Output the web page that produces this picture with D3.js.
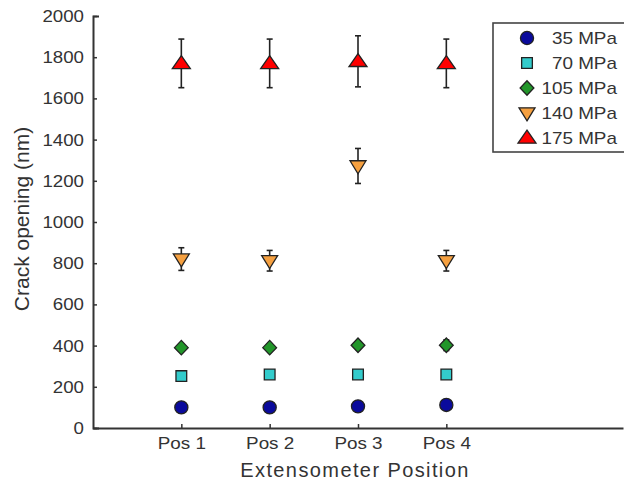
<!DOCTYPE html>
<html>
<head>
<meta charset="utf-8">
<script src="https://cdn.jsdelivr.net/npm/d3@7"></script>
<style>
  body { margin: 0; background: #fff; }
  text { font-family: "Liberation Sans", Arial, sans-serif; fill: #333; }
  .wide { transform-box: fill-box; transform: scaleX(1.18); }
  .wide-s { transform-box: fill-box; transform: scaleX(1.1); }
  .axis path, .axis line { stroke: #333; }
</style>
</head>
<body>
<script>
// chart values
var positions = ['Pos 1', 'Pos 2', 'Pos 3', 'Pos 4'];
var stressLabels = ['35 MPa', '70 MPa', '105 MPa', '140 MPa', '175 MPa'];
var mpa35 = [100, 100, 105, 112],
    err35 = [8, 8, 10, 14];
var mpa70 = [252, 260, 260, 260],
    err70 = [8, 8, 8, 8];
var mpa105 = [390, 390, 402, 402],
    err105 = [12, 12, 20, 26];
var mpa140 = [820, 812, 1272, 812],
    err140 = [55, 50, 85, 50];
var mpa175 = [1770, 1770, 1780, 1770],
    err175 = [118, 118, 124, 118];
var yTicks = [0, 200, 400, 600, 800, 1000, 1200, 1400, 1600, 1800, 2000];

var width = 624, height = 487;

var svg = d3.select('body').append('svg')
  .attr('width', width)
  .attr('height', height);

// scales
var x = d3.scaleLinear().domain([0, 6]).range([93, 623]);
var y = d3.scaleLinear().domain([0, 2000]).range([428, 16]);

// marker shapes (matlab style)
var triUp = { draw: function(ctx, size) {
  var w = Math.sqrt(size) * 0.9, h = 13;
  ctx.moveTo(0, -h * 0.6); ctx.lineTo(w, h * 0.4); ctx.lineTo(-w, h * 0.4); ctx.closePath();
}};
var triDown = { draw: function(ctx, size) {
  var w = Math.sqrt(size) * 0.8, h = 13;
  ctx.moveTo(0, h * 0.6); ctx.lineTo(w, -h * 0.4); ctx.lineTo(-w, -h * 0.4); ctx.closePath();
}};
var diamond = { draw: function(ctx, size) {
  var r = Math.sqrt(size) / 2;
  ctx.moveTo(0, -r); ctx.lineTo(r * 0.95, 0); ctx.lineTo(0, r); ctx.lineTo(-r * 0.95, 0); ctx.closePath();
}};

var series = [
  { label: stressLabels[0], vals: mpa35, errs: err35, type: d3.symbolCircle, size: 135, color: '#0a0a9c' },
  { label: stressLabels[1], vals: mpa70, errs: err70, type: d3.symbolSquare, size: 115, color: '#33cccc' },
  { label: stressLabels[2], vals: mpa105, errs: err105, type: diamond, size: 210, color: '#22962a' },
  { label: stressLabels[3], vals: mpa140, errs: err140, type: triDown, size: 100, color: '#f5a040' },
  { label: stressLabels[4], vals: mpa175, errs: err175, type: triUp, size: 100, color: '#ff0000' }
];

// axes
var yAxis = svg.append('g')
  .attr('class', 'axis')
  .attr('transform', 'translate(' + x(0) + ',0)')
  .call(d3.axisLeft(y).tickValues(yTicks).tickFormat(d3.format('d'))
    .tickSizeInner(-4).tickSizeOuter(-6).tickPadding(9));
var xAxis = svg.append('g')
  .attr('class', 'axis')
  .attr('transform', 'translate(0,' + y(0) + ')')
  .call(d3.axisBottom(x).tickValues([1, 2, 3, 4]).tickFormat(function(d) { return positions[d - 1]; })
    .tickSizeInner(-4).tickSizeOuter(0).tickPadding(10));

svg.selectAll('.axis path').attr('stroke-width', 2);
svg.selectAll('.axis line').attr('stroke-width', 1.5);
svg.selectAll('.axis text')
  .attr('font-family', '"Liberation Sans", Arial, sans-serif')
  .attr('fill', '#333');
yAxis.selectAll('text').attr('font-size', 17).attr('class', 'wide-s').style('transform-origin', 'right center');
xAxis.selectAll('text').attr('font-size', 16).attr('class', 'wide').style('transform-origin', 'center');

// axis titles
svg.append('text')
  .attr('x', 355).attr('y', 477)
  .attr('text-anchor', 'middle')
  .attr('font-size', 20)
  .attr('letter-spacing', 1.4)
  .text('Extensometer Position');
svg.append('text')
  .attr('transform', 'translate(29,219) rotate(-90)')
  .attr('text-anchor', 'middle')
  .attr('font-size', 21)
  .text('Crack opening (nm)');

// error bars then markers
var groups = svg.selectAll('.series')
  .data(series)
  .enter().append('g')
  .attr('class', 'series');

groups.each(function(s) {
  var g = d3.select(this);
  var pts = s.vals.map(function(v, i) { return { pos: i + 1, v: v, e: s.errs[i] }; });
  var bars = g.selectAll('.err').data(pts).enter().append('g').attr('class', 'err')
    .attr('stroke', '#222').attr('stroke-width', 1.6);
  bars.append('line')
    .attr('x1', function(d) { return x(d.pos); }).attr('x2', function(d) { return x(d.pos); })
    .attr('y1', function(d) { return y(d.v - d.e); }).attr('y2', function(d) { return y(d.v + d.e); });
  bars.append('line')
    .attr('x1', function(d) { return x(d.pos) - 3; }).attr('x2', function(d) { return x(d.pos) + 3; })
    .attr('y1', function(d) { return y(d.v + d.e); }).attr('y2', function(d) { return y(d.v + d.e); });
  bars.append('line')
    .attr('x1', function(d) { return x(d.pos) - 3; }).attr('x2', function(d) { return x(d.pos) + 3; })
    .attr('y1', function(d) { return y(d.v - d.e); }).attr('y2', function(d) { return y(d.v - d.e); });
  g.selectAll('.mark').data(pts).enter().append('path')
    .attr('class', 'mark')
    .attr('d', d3.symbol().type(s.type).size(s.size))
    .attr('transform', function(d) { return 'translate(' + x(d.pos) + ',' + y(d.v) + ')'; })
    .attr('fill', s.color)
    .attr('stroke', '#222')
    .attr('stroke-width', 1.3);
});

// legend
var legend = svg.append('g').attr('transform', 'translate(493,23)');
legend.append('rect')
  .attr('width', 140).attr('height', 129)
  .attr('fill', '#fff').attr('stroke', '#444').attr('stroke-width', 1.6);
var items = legend.selectAll('.item')
  .data(series)
  .enter().append('g')
  .attr('class', 'item')
  .attr('transform', function(d, i) { return 'translate(0,' + (15 + i * 25) + ')'; });
items.append('path')
  .attr('d', function(d) { return d3.symbol().type(d.type).size(d.size)(); })
  .attr('transform', 'translate(34,0)')
  .attr('fill', function(d) { return d.color; })
  .attr('stroke', '#222').attr('stroke-width', 1.3);
items.append('text')
  .attr('class', 'wide')
  .style('transform-origin', 'right center')
  .attr('x', 124).attr('y', 6)
  .attr('text-anchor', 'end')
  .attr('font-size', 16)
  .text(function(d) { return d.label; });
</script>
</body>
</html>
